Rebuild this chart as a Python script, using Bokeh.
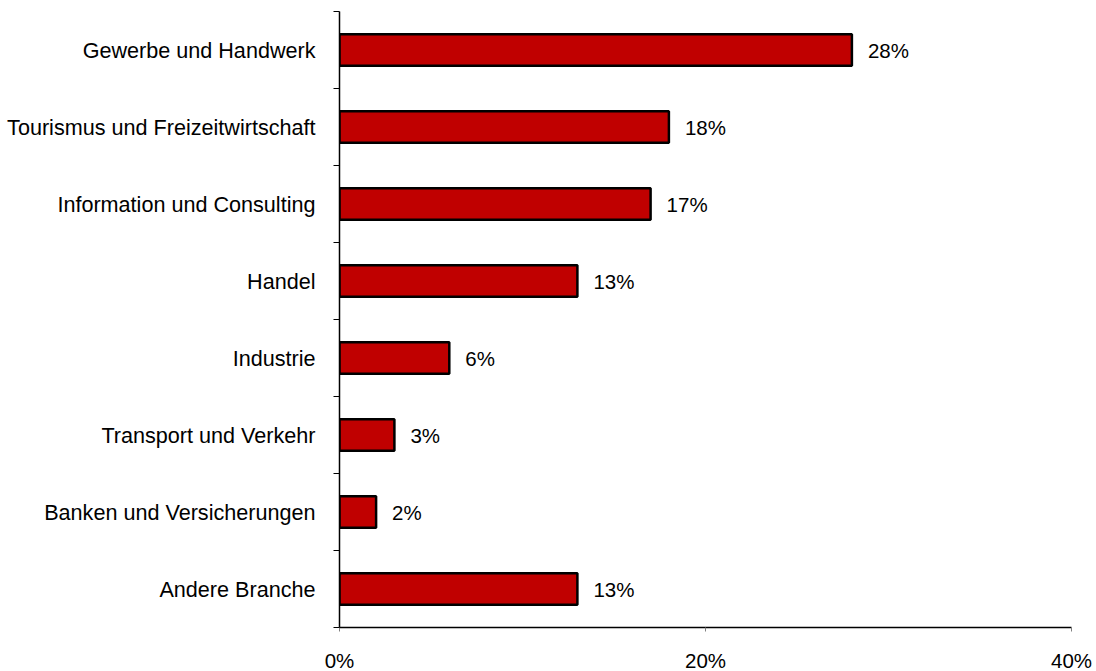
from bokeh.plotting import figure
from bokeh.models import FixedTicker, PrintfTickFormatter, Range1d, ColumnDataSource
from bokeh.core.properties import value
from bokeh.embed import file_html
from bokeh.resources import INLINE

categories = ["Gewerbe und Handwerk", "Tourismus und Freizeitwirtschaft", "Information und Consulting",
              "Handel", "Industrie", "Transport und Verkehr", "Banken und Versicherungen", "Andere Branche"]
values = [28, 18, 17, 13, 6, 3, 2, 13]
labels = ["28%", "18%", "17%", "13%", "6%", "3%", "2%", "13%"]
x_ticks = [0, 20, 40]

n = len(categories)
ypos = [n - i - 0.5 for i in range(n)]
src = ColumnDataSource(dict(y=ypos, v=values, lab=labels, cat=categories))

FONT = "Liberation Sans"
FS = "20.5px"
p = figure(width=1096, height=671, output_backend="svg", toolbar_location=None,
           x_range=Range1d(0, 40), y_range=Range1d(0, n),
           frame_width=732, frame_height=616,
           min_border_left=339, min_border_top=11, min_border_right=25, min_border_bottom=44)
p.outline_line_color = None
p.xgrid.visible = False
p.ygrid.visible = False

p.hbar(y="y", right="v", left=0, height=0.41, source=src,
       fill_color="#C00000", line_color="black", line_width=2.5)
p.text(x="v", y="y", text="lab", source=src, x_offset=16, text_baseline="middle",
       text_align="left", text_font=value(FONT), text_font_size=FS, text_color="black")

p.xaxis.ticker = FixedTicker(ticks=x_ticks)
p.xaxis.formatter = PrintfTickFormatter(format="%d%%")
p.xaxis.major_tick_in = 0
p.xaxis.major_tick_out = 4
p.xaxis.major_tick_line_color = "#808080"
p.xaxis.minor_tick_line_color = None
p.xaxis.axis_line_color = "black"
p.xaxis.axis_line_width = 1.5
p.xaxis.major_label_standoff = 17
p.xaxis.major_label_text_font = FONT
p.xaxis.major_label_text_font_size = FS
p.xaxis.major_label_text_color = "black"

p.yaxis.ticker = FixedTicker(ticks=ypos, minor_ticks=list(range(n + 1)))
p.yaxis.major_label_overrides = {y: c for y, c in zip(ypos, categories)}
p.yaxis.major_tick_in = 0
p.yaxis.major_tick_out = 0
p.yaxis.minor_tick_in = 0
p.yaxis.minor_tick_out = 6
p.yaxis.minor_tick_line_color = "black"
p.yaxis.axis_line_color = "black"
p.yaxis.axis_line_width = 1.5
p.yaxis.major_label_standoff = 18
p.yaxis.major_label_text_font = FONT
p.yaxis.major_label_text_font_size = "21.6px"
p.yaxis.major_label_text_color = "black"

open("out.html", "w").write(file_html(p, INLINE))
